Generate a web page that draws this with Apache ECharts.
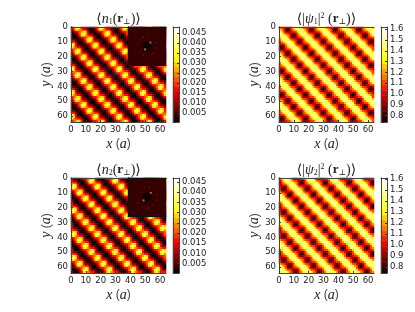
<!DOCTYPE html>
<html><head><meta charset="utf-8">
<style>html,body{margin:0;background:#fff}#c{width:415px;height:312px;filter:blur(0.5px)}</style>
<script src="https://cdn.jsdelivr.net/npm/echarts@6/dist/echarts.min.js"></script></head>
<body><div id="c"></div>
<script>
// Each row is one line of cells, top to bottom; a digit is a colour level 0-9.
const n1Rows=[
"358984221011358984221011358984221011358984221011",
"247865442100247865442100247865442100247865442100",
"124456874100124456874100124456874100124456874100",
"011358984221011358984221011358984221011358984221",
"100247865442100247865442100247865442100247865442",
"100124456874100124456874100124456874100124456874",
"221011358984221011358984221011358984221011358984",
"442100247865442100247865442100247865442100247865",
"874100124456874100124456874100124456874100124456",
"984221011358984221011358984221011358984221011358",
"865442100247865442100247865442100247865442100247",
"456874100124456874100124456874100124456874100124",
"358984221011358984221011358984221011358984221011",
"247865442100247865442100247865442100247865442100",
"124456874100124456874100124456874100124456874100",
"011358984221011358984221011358984221011358984221",
"100247865442100247865442100247865442100247865442",
"100124456874100124456874100124456874100124456874",
"221011358984221011358984221011358984221011358984",
"442100247865442100247865442100247865442100247865",
"874100124456874100124456874100124456874100124456",
"984221011358984221011358984221011358984221011358",
"865442100247865442100247865442100247865442100247",
"456874100124456874100124456874100124456874100124",
"358984221011358984221011358984221011358984221011",
"247865442100247865442100247865442100247865442100",
"124456874100124456874100124456874100124456874100",
"011358984221011358984221011358984221011358984221",
"100247865442100247865442100247865442100247865442",
"100124456874100124456874100124456874100124456874",
"221011358984221011358984221011358984221011358984",
"442100247865442100247865442100247865442100247865",
"874100124456874100124456874100124456874100124456",
"984221011358984221011358984221011358984221011358",
"865442100247865442100247865442100247865442100247",
"456874100124456874100124456874100124456874100124",
"358984221011358984221011358984221011358984221011",
"247865442100247865442100247865442100247865442100",
"124456874100124456874100124456874100124456874100",
"011358984221011358984221011358984221011358984221",
"100247865442100247865442100247865442100247865442",
"100124456874100124456874100124456874100124456874",
"221011358984221011358984221011358984221011358984",
"442100247865442100247865442100247865442100247865",
"874100124456874100124456874100124456874100124456",
"984221011358984221011358984221011358984221011358",
"865442100247865442100247865442100247865442100247",
"456874100124456874100124456874100124456874100124"];
const n2Rows=[
"410012445687410012445687410012445687410012445687",
"422101135898422101135898422101135898422101135898",
"544210024786544210024786544210024786544210024786",
"687410012445687410012445687410012445687410012445",
"898422101135898422101135898422101135898422101135",
"786544210024786544210024786544210024786544210024",
"445687410012445687410012445687410012445687410012",
"135898422101135898422101135898422101135898422101",
"024786544210024786544210024786544210024786544210",
"012445687410012445687410012445687410012445687410",
"101135898422101135898422101135898422101135898422",
"210024786544210024786544210024786544210024786544",
"410012445687410012445687410012445687410012445687",
"422101135898422101135898422101135898422101135898",
"544210024786544210024786544210024786544210024786",
"687410012445687410012445687410012445687410012445",
"898422101135898422101135898422101135898422101135",
"786544210024786544210024786544210024786544210024",
"445687410012445687410012445687410012445687410012",
"135898422101135898422101135898422101135898422101",
"024786544210024786544210024786544210024786544210",
"012445687410012445687410012445687410012445687410",
"101135898422101135898422101135898422101135898422",
"210024786544210024786544210024786544210024786544",
"410012445687410012445687410012445687410012445687",
"422101135898422101135898422101135898422101135898",
"544210024786544210024786544210024786544210024786",
"687410012445687410012445687410012445687410012445",
"898422101135898422101135898422101135898422101135",
"786544210024786544210024786544210024786544210024",
"445687410012445687410012445687410012445687410012",
"135898422101135898422101135898422101135898422101",
"024786544210024786544210024786544210024786544210",
"012445687410012445687410012445687410012445687410",
"101135898422101135898422101135898422101135898422",
"210024786544210024786544210024786544210024786544",
"410012445687410012445687410012445687410012445687",
"422101135898422101135898422101135898422101135898",
"544210024786544210024786544210024786544210024786",
"687410012445687410012445687410012445687410012445",
"898422101135898422101135898422101135898422101135",
"786544210024786544210024786544210024786544210024",
"445687410012445687410012445687410012445687410012",
"135898422101135898422101135898422101135898422101",
"024786544210024786544210024786544210024786544210",
"012445687410012445687410012445687410012445687410",
"101135898422101135898422101135898422101135898422",
"210024786544210024786544210024786544210024786544"];
const psi1Rows=[
"443212478986443212478986443212478986443212478986",
"754101457888754101457888754101457888754101457888",
"874212344689874212344689874212344689874212344689",
"986443212478986443212478986443212478986443212478",
"888754101457888754101457888754101457888754101457",
"689874212344689874212344689874212344689874212344",
"478986443212478986443212478986443212478986443212",
"457888754101457888754101457888754101457888754101",
"344689874212344689874212344689874212344689874212",
"212478986443212478986443212478986443212478986443",
"101457888754101457888754101457888754101457888754",
"212344689874212344689874212344689874212344689874",
"443212478986443212478986443212478986443212478986",
"754101457888754101457888754101457888754101457888",
"874212344689874212344689874212344689874212344689",
"986443212478986443212478986443212478986443212478",
"888754101457888754101457888754101457888754101457",
"689874212344689874212344689874212344689874212344",
"478986443212478986443212478986443212478986443212",
"457888754101457888754101457888754101457888754101",
"344689874212344689874212344689874212344689874212",
"212478986443212478986443212478986443212478986443",
"101457888754101457888754101457888754101457888754",
"212344689874212344689874212344689874212344689874",
"443212478986443212478986443212478986443212478986",
"754101457888754101457888754101457888754101457888",
"874212344689874212344689874212344689874212344689",
"986443212478986443212478986443212478986443212478",
"888754101457888754101457888754101457888754101457",
"689874212344689874212344689874212344689874212344",
"478986443212478986443212478986443212478986443212",
"457888754101457888754101457888754101457888754101",
"344689874212344689874212344689874212344689874212",
"212478986443212478986443212478986443212478986443",
"101457888754101457888754101457888754101457888754",
"212344689874212344689874212344689874212344689874",
"443212478986443212478986443212478986443212478986",
"754101457888754101457888754101457888754101457888",
"874212344689874212344689874212344689874212344689",
"986443212478986443212478986443212478986443212478",
"888754101457888754101457888754101457888754101457",
"689874212344689874212344689874212344689874212344",
"478986443212478986443212478986443212478986443212",
"457888754101457888754101457888754101457888754101",
"344689874212344689874212344689874212344689874212",
"212478986443212478986443212478986443212478986443",
"101457888754101457888754101457888754101457888754",
"212344689874212344689874212344689874212344689874"];
const psi2Rows=[
"468987421234468987421234468987421234468987421234",
"247898644321247898644321247898644321247898644321",
"145788875410145788875410145788875410145788875410",
"234468987421234468987421234468987421234468987421",
"321247898644321247898644321247898644321247898644",
"410145788875410145788875410145788875410145788875",
"421234468987421234468987421234468987421234468987",
"644321247898644321247898644321247898644321247898",
"875410145788875410145788875410145788875410145788",
"987421234468987421234468987421234468987421234468",
"898644321247898644321247898644321247898644321247",
"788875410145788875410145788875410145788875410145",
"468987421234468987421234468987421234468987421234",
"247898644321247898644321247898644321247898644321",
"145788875410145788875410145788875410145788875410",
"234468987421234468987421234468987421234468987421",
"321247898644321247898644321247898644321247898644",
"410145788875410145788875410145788875410145788875",
"421234468987421234468987421234468987421234468987",
"644321247898644321247898644321247898644321247898",
"875410145788875410145788875410145788875410145788",
"987421234468987421234468987421234468987421234468",
"898644321247898644321247898644321247898644321247",
"788875410145788875410145788875410145788875410145",
"468987421234468987421234468987421234468987421234",
"247898644321247898644321247898644321247898644321",
"145788875410145788875410145788875410145788875410",
"234468987421234468987421234468987421234468987421",
"321247898644321247898644321247898644321247898644",
"410145788875410145788875410145788875410145788875",
"421234468987421234468987421234468987421234468987",
"644321247898644321247898644321247898644321247898",
"875410145788875410145788875410145788875410145788",
"987421234468987421234468987421234468987421234468",
"898644321247898644321247898644321247898644321247",
"788875410145788875410145788875410145788875410145",
"468987421234468987421234468987421234468987421234",
"247898644321247898644321247898644321247898644321",
"145788875410145788875410145788875410145788875410",
"234468987421234468987421234468987421234468987421",
"321247898644321247898644321247898644321247898644",
"410145788875410145788875410145788875410145788875",
"421234468987421234468987421234468987421234468987",
"644321247898644321247898644321247898644321247898",
"875410145788875410145788875410145788875410145788",
"987421234468987421234468987421234468987421234468",
"898644321247898644321247898644321247898644321247",
"788875410145788875410145788875410145788875410145"];
const axisTicks=[0,10,20,30,40,50,60];
const nTicks=[0.005,0.010,0.015,0.020,0.025,0.030,0.035,0.040,0.045];
const psiTicks=[0.8,0.9,1.0,1.1,1.2,1.3,1.4,1.5,1.6];
const nBarLevels=[0.0015,0.004,0.0065,0.009,0.0115,0.014,0.0165,0.019,0.0215,0.024,0.0265,0.029,0.0315,0.034,0.0365,0.039,0.0415,0.044,0.0465];
const psiBarLevels=[0.765,0.815,0.865,0.915,0.965,1.015,1.065,1.115,1.165,1.215,1.265,1.315,1.365,1.415,1.465,1.515,1.565,1.61];
// [x%, y%, level] of the spots in the inset
const inset1Peaks=[[59,41,3],[45,59,3],[30,32,1],[39,27,2],[54,25,1],[67,30,1],[74,41,2],[76,56,1],[67,69,2],[54,78,1],[41,75,2],[28,65,1],[22,44,1]];
const inset2Peaks=[[60,39,3],[41,59,3],[28,34,1],[42,26,1],[56,24,2],[70,30,1],[76,42,1],[76,58,2],[66,72,1],[52,79,2],[38,76,1],[26,66,2],[21,48,1]];
const spotColor={1:'#5a0a00',2:'#861606',3:'#b89088'};
const hot=['#0b0000','#ff0000','#ffff00','#ffffff'];
const SERIF='"Liberation Serif","DejaVu Serif",serif', SANS='"DejaVu Sans",sans-serif', INK='#222';
const panels=[
 {rows:n1Rows,left:71,top:27,bar:173,ticks:nTicks,levels:nBarLevels,step:0.0042,base:0,min:0.0004,max:0.048,fmt:v=>v.toFixed(3),peaks:inset1Peaks,title:'{t|⟨}{i|n}{s|1}{t|(}{b|r}{s|⊥}{t|)⟩}'},
 {rows:psi1Rows,left:279,top:27,bar:381,ticks:psiTicks,levels:psiBarLevels,step:0.085,base:0.76,min:0.742,max:1.62,fmt:v=>v.toFixed(1),title:'{t|⟨|}{i|ψ}{s|1}{t|\u007c}{u|2}{t| (}{b|r}{s|⊥}{t|)⟩}'},
 {rows:n2Rows,left:71,top:178,bar:173,ticks:nTicks,levels:nBarLevels,step:0.0042,base:0,min:0.0004,max:0.047,fmt:v=>v.toFixed(3),peaks:inset2Peaks,title:'{t|⟨}{i|n}{s|2}{t|(}{b|r}{s|⊥}{t|)⟩}'},
 {rows:psi2Rows,left:279,top:178,bar:381,ticks:psiTicks,levels:psiBarLevels,step:0.085,base:0.76,min:0.743,max:1.61,fmt:v=>v.toFixed(1),title:'{t|⟨|}{i|ψ}{s|2}{t|\u007c}{u|2}{t| (}{b|r}{s|⊥}{t|)⟩}'}
];
const rich={t:{fontFamily:SERIF,fontWeight:'normal',fontSize:14,color:INK},i:{fontFamily:SERIF,fontStyle:'italic',fontWeight:'normal',fontSize:14,color:INK},
 b:{fontFamily:SERIF,fontWeight:'bold',fontSize:13,color:INK},s:{fontFamily:SERIF,fontWeight:'normal',fontSize:8,color:INK,verticalAlign:'bottom'},u:{fontFamily:SERIF,fontWeight:'normal',fontSize:8,color:INK,verticalAlign:'top'}};
const nameRich={t:{fontFamily:SERIF,fontSize:14,color:INK},i:{fontFamily:SERIF,fontStyle:'italic',fontSize:14,color:INK}};
const grid=[],xAxis=[],yAxis=[],series=[],visualMap=[],title=[];
const line={show:true,lineStyle:{color:'#444',width:1}};
const hidden={axisLabel:{show:false},axisTick:{show:false},splitLine:{show:false},splitArea:{show:false}};
const cells=Array.from({length:48},(_,i)=>i);
function pair(g,xs,ys){
  const xi=xAxis.length, yi=yAxis.length;
  xs.forEach(a=>xAxis.push(Object.assign({gridIndex:g},a)));
  ys.forEach(a=>yAxis.push(Object.assign({gridIndex:g},a)));
  return [xi,yi];
}
panels.forEach(p=>{
  const size=95;
  title.push({text:p.title,left:p.left+size/2,top:p.top-15,textAlign:'center',textStyle:{rich,fontSize:14,fontWeight:'normal'},padding:0});
  let g=grid.length; grid.push({left:p.left,top:p.top,width:size,height:size});
  const tickStyle={show:true,inside:true,length:2,lineStyle:{color:'#333',width:1},customValues:axisTicks};
  const labelStyle={fontFamily:SANS,fontSize:8.5,color:INK,margin:3,customValues:axisTicks};
  let [xi,yi]=pair(g,
   [{type:'category',position:'top',data:cells,z:5,axisLine:line,...hidden},
    {type:'value',position:'bottom',min:0,max:64,z:5,axisLine:line,axisTick:tickStyle,axisLabel:labelStyle,splitLine:{show:false},
     name:'{i|x} ({i|a})',nameLocation:'middle',nameGap:15,nameTextStyle:{rich:nameRich}}],
   [{type:'category',position:'right',inverse:true,data:cells,z:5,axisLine:line,...hidden},
    {type:'value',position:'left',inverse:true,min:0,max:64,z:5,axisLine:line,axisTick:tickStyle,axisLabel:labelStyle,splitLine:{show:false},
     name:'{i|y} ({i|a})',nameLocation:'middle',nameGap:15,nameTextStyle:{rich:nameRich}}]);
  const mapData=[];
  p.rows.forEach((r,y)=>[...r].forEach((c,x)=>mapData.push([x,y,p.base+(+c)*p.step])));
  const mapSeries=series.length;
  series.push({type:'heatmap',xAxisIndex:xi,yAxisIndex:yi,data:mapData,z:2,silent:true,progressive:0,animation:false,emphasis:{disabled:true}});
  g=grid.length; grid.push({left:p.bar,top:p.top,width:6,height:size});
  [xi,yi]=pair(g,
   [{type:'category',position:'bottom',data:['bar'],z:5,axisLine:line,...hidden},
    {type:'category',position:'top',data:['bar'],z:5,axisLine:line,...hidden}],
   [{type:'category',position:'left',data:p.levels,z:5,axisLine:line,...hidden},
    {type:'value',position:'right',min:p.min,max:p.max,z:5,axisLine:line,splitLine:{show:false},
     axisTick:{show:true,inside:true,length:2,lineStyle:{color:'#333'},customValues:p.ticks},
     axisLabel:{fontFamily:SANS,fontSize:8.5,color:INK,margin:3,customValues:p.ticks,formatter:p.fmt}}]);
  const barSeries=series.length;
  series.push({type:'heatmap',xAxisIndex:xi,yAxisIndex:yi,data:p.levels.map((v,i)=>[0,i,v]),z:2,silent:true,progressive:0,animation:false,emphasis:{disabled:true}});
  visualMap.push({show:false,type:'continuous',dimension:2,seriesIndex:[mapSeries,barSeries],min:p.min,max:p.max,inRange:{color:hot}});
  if(p.peaks){
    const frame={show:true,lineStyle:{color:'#111'}};
    g=grid.length; grid.push({left:p.left+57,top:p.top,width:38,height:38});
    [xi,yi]=pair(g,
     [{type:'category',position:'top',data:['bg'],z:20,axisLine:frame,...hidden},
      {type:'value',position:'bottom',min:0,max:100,z:20,axisLine:frame,...hidden}],
     [{type:'category',position:'right',data:['bg'],z:20,axisLine:frame,...hidden},
      {type:'value',position:'left',inverse:true,min:0,max:100,z:20,axisLine:frame,...hidden}]);
    series.push({type:'heatmap',xAxisIndex:xi,yAxisIndex:yi,data:[[0,0,1]],z:10,silent:true,animation:false,itemStyle:{color:'#340000'},emphasis:{disabled:true}});
    series.push({type:'scatter',xAxisIndex:xi+1,yAxisIndex:yi+1,data:[[50,50,0]],z:11,silent:true,animation:false,symbolSize:9,itemStyle:{color:'#060000'}});
    series.push({type:'scatter',xAxisIndex:xi+1,yAxisIndex:yi+1,data:p.peaks,z:12,silent:true,animation:false,symbolSize:d=>d[2]===3?2.2:1.8,itemStyle:{color:o=>spotColor[o.value[2]]}});
  }
});
const chart=echarts.init(document.getElementById('c'),null,{renderer:'canvas'});
chart.setOption({animation:false,backgroundColor:'#fff',title,grid,xAxis,yAxis,series,visualMap,tooltip:{show:false}});
</script></body></html>
